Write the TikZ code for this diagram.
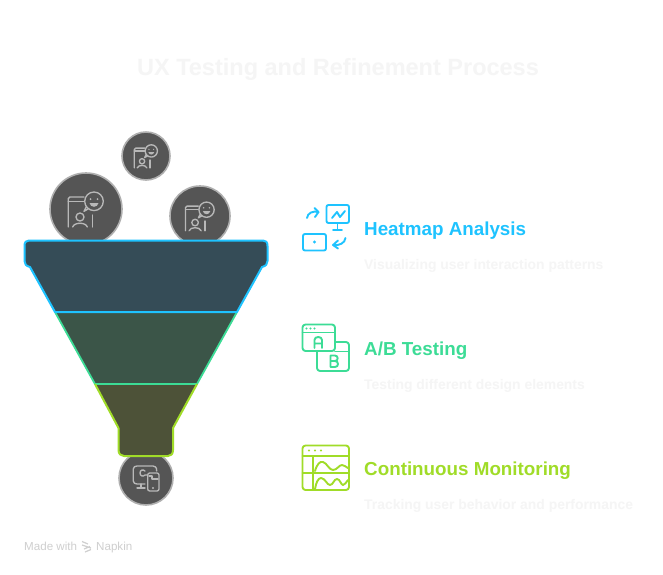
\documentclass[tikz,border=0pt]{standalone}
\usepackage{fontspec}
\setmainfont{Liberation Sans}
\definecolor{cy}{HTML}{1EC3FF}
\definecolor{gr}{HTML}{3CDC96}
\definecolor{li}{HTML}{A0DC28}
\definecolor{fa}{HTML}{354C57}
\definecolor{fb}{HTML}{3B5548}
\definecolor{fc}{HTML}{4D5238}
\definecolor{cf}{HTML}{555555}
\definecolor{cs}{HTML}{AFAFAF}
\definecolor{ic}{HTML}{B8B8B8}
\definecolor{pale}{HTML}{F5F5F5}
\definecolor{wmark}{HTML}{CFCFCF}
\tikzset{
  x=1pt,y=-1pt,
  badge/.style={circle,draw=cs,fill=cf,line width=1.6pt,inner sep=0pt,minimum size=#1},
  glyph/.style={draw=ic,line width=1.35pt,line cap=round,line join=round},
  iconline/.style={line width=1.9pt,line cap=round,line join=round},
  heading/.style={anchor=base west,inner sep=0pt,font=\bfseries\fontsize{18.8}{20}\selectfont},
  sub/.style={anchor=base west,inner sep=0pt,text=pale,font=\bfseries\fontsize{13.9}{16}\selectfont},
}
\newcommand{\usericon}[3]{%
 \begin{scope}[shift={(#1,#2)},scale=#3]
  \draw[glyph,rounded corners=1.5pt] (-17.7,18) -- (-17.7,-12) -- (-2,-12);
  \draw[glyph] (-17.7,-7.7) -- (-2,-7.7);
  \draw[glyph] (6.3,6) -- (6.3,18);
  \draw[glyph] (-6,8) circle (4);
  \draw[glyph] (-13.3,18) .. controls (-12,13) and (0,13) .. (1.3,18);
  \draw[glyph] (8,-7.7) circle (9.3);
  \draw[glyph] (2,0) -- (-2,2.3) -- (0.5,-2.5);
  \fill[ic] (4.5,-10) circle (1) (11.5,-10) circle (1);
  \fill[ic] (3.5,-6) .. controls (4.5,-1) and (11.5,-1) .. (12.5,-6) -- cycle;
 \end{scope}}
\begin{document}
\begin{tikzpicture}
\useasboundingbox (0,0) rectangle (663,574);
\fill[white] (0,0) rectangle (663,574);
% title
\node[anchor=base,inner sep=0pt,text=pale,font=\bfseries\fontsize{23.5}{28}\selectfont] (title) at (338,75) {UX Testing and Refinement Process};
% badges
\node[badge=48pt] (b1) at (146,156) {};
\node[badge=72pt] (b2) at (86,209) {};
\node[badge=60pt] (b3) at (200,216) {};
\node[badge=54pt] (b4) at (146,478) {};
\usericon{146}{156}{.66}
\usericon{86}{209}{1}
\usericon{200}{216}{.82}
% bottom badge icon
\begin{scope}[shift={(146,478)}]
 \draw[glyph] (-1,6) -- (-9,6) .. controls (-11,6) and (-12.7,5) .. (-12.7,3) -- (-12.7,-9) .. controls (-12.7,-11) and (-11,-12) .. (-9,-12) -- (7,-12) .. controls (9,-12) and (10.7,-11) .. (10.7,-7);
 \draw[glyph] (-5,6) -- (-5,10) (-9,10) -- (-1,10);
 \draw[glyph] (-1,-7) .. controls (-3,-9) and (-6,-8) .. (-6,-5) .. controls (-6,-2) and (-3,-1) .. (-1,-3) -- (1,-3);
 \draw[glyph,rounded corners=2pt] (1.7,-5) rectangle (13,13);
 \draw[glyph] (3,-2) -- (6,-2) -- (6,1) -- (12,1);
 \fill[ic] (7,10) circle (1.2);
\end{scope}
% funnel
\fill[fa,rounded corners=5pt] (24.5,240.5) -- (267.5,240.5) -- (267.5,267) -- (24.5,267) -- cycle;
\fill[fa] (30,262) -- (262,262) -- (262,267) -- (237,312) -- (55,312) -- (30,267) -- cycle;
\fill[fb] (55,312) -- (237,312) -- (197,384) -- (95,384) -- cycle;
\fill[fc] (95,384) -- (197,384) -- (173,428) -- (173,450) .. controls (173,454) and (171,456) .. (168,456) -- (124,456) .. controls (121,456) and (118.5,454) .. (118.5,450) -- (118.5,428) -- cycle;
\draw[gr,line width=1.8pt] (55,312) -- (95,384) -- (197,384) -- (237,312);
\draw[li,line width=2pt,line join=round] (95,384) -- (118.5,428) -- (118.5,450) .. controls (118.5,454) and (121,456) .. (124,456) -- (168,456) .. controls (171,456) and (173,454) .. (173,450) -- (173,428) -- (197,384);
\draw[cy,line width=2pt,line join=round] (55,312) -- (30,267) .. controls (26,266) and (24.5,264) .. (24.5,261) -- (24.5,246) .. controls (24.5,242) and (26,240.5) .. (29,240.5) -- (263,240.5) .. controls (266,240.5) and (267.5,242) .. (267.5,246) -- (267.5,261) .. controls (267.5,264) and (266,266) .. (262,267) -- (237,312) -- cycle;
% heatmap icon
\draw[cy,iconline,rounded corners=2pt] (326.5,205) rectangle (349,223);
\draw[cy,iconline] (337.5,223) -- (337.5,230) (333,230) -- (342,230);
\draw[cy,iconline] (332,218) -- (337,212) -- (340,217) -- (345,211);
\draw[cy,iconline,rounded corners=2pt] (303,234) rectangle (326,250.5);
\fill[cy] (314.5,242) circle (1.7);
\draw[cy,iconline] (307,218) .. controls (307.5,213) and (313,210.5) .. (318.5,212);
\draw[cy,iconline] (314.5,208) -- (318.5,212) -- (315,217);
\draw[cy,iconline] (345.5,238) .. controls (345,243) and (339,246) .. (333.5,245);
\draw[cy,iconline] (338,240.5) -- (333,245) -- (338,248.5);
% A/B icon
\draw[gr,iconline,rounded corners=3pt] (302.5,324.5) rectangle (335,351);
\draw[gr,iconline] (302.5,332.5) -- (335,332.5);
\fill[gr] (306.5,328.5) circle (1.1) (310.5,328.5) circle (1.1) (314.5,328.5) circle (1.1);
\draw[gr,iconline] (314.5,348) -- (314.5,340) .. controls (314.5,336) and (322,336) .. (322,340) -- (322,348) (314.5,343.5) -- (322,343.5);
\draw[gr,iconline,rounded corners=3pt] (335,342) -- (349,342) -- (349,371) -- (317,371) -- (317,351);
\draw[gr,iconline] (335,351.5) -- (349,351.5);
\draw[gr,iconline] (330.5,355.5) -- (330.5,367) -- (335,367) .. controls (339,367) and (339,361) .. (335,361) -- (330.5,361) (335,361) .. controls (338.5,361) and (338.5,355.5) .. (335,355.5) -- (330.5,355.5);
% monitoring icon
\draw[li,iconline,rounded corners=3pt] (302.5,445.5) rectangle (349,490);
\draw[li,iconline] (302.5,456) -- (349,456) (313,456) -- (313,490) (302.5,473) -- (349,473);
\fill[li] (309,450.5) circle (1.1) (315,450.5) circle (1.1) (321,450.5) circle (1.1);
\draw[li,iconline] (315,471) .. controls (317,464) and (320,461) .. (323,462) .. controls (327,463) and (329,470) .. (333,470) .. controls (337,470) and (339,465) .. (342,465) .. controls (344,465) and (346,467) .. (348,468);
\draw[li,iconline] (315,489) .. controls (316,483) and (318,478) .. (321,478) .. controls (325,478) and (327,485) .. (330,485) .. controls (333,485) and (334,479) .. (337,479) .. controls (340,479) and (341,485) .. (343,485) .. controls (345,485) and (346,482) .. (348,480);
% labels
\node[heading,text=cy] (h1) at (364,235) {Heatmap Analysis};
\node[sub] (s1) at (364,269) {Visualizing user interaction patterns};
\node[heading,text=gr] (h2) at (364,355) {A/B Testing};
\node[sub] (s2) at (364,389) {Testing different design elements};
\node[heading,text=li] (h3) at (364,475) {Continuous Monitoring};
\node[sub] (s3) at (364,509) {Tracking user behavior and performance};
% watermark
\node[anchor=base west,inner sep=0pt,text=wmark,font=\fontsize{11.6}{12}\selectfont] (m1) at (24,550) {Made with};
\draw[wmark,line width=1.2pt] (82,541.5) -- (88,544) (82,545) -- (91,548) (84,549) -- (90,546.5) (85,552) -- (91,549.5);
\node[anchor=base west,inner sep=0pt,text=wmark,font=\fontsize{11.6}{12}\selectfont] (m2) at (96,550) {Napkin};
\end{tikzpicture}
\end{document}
